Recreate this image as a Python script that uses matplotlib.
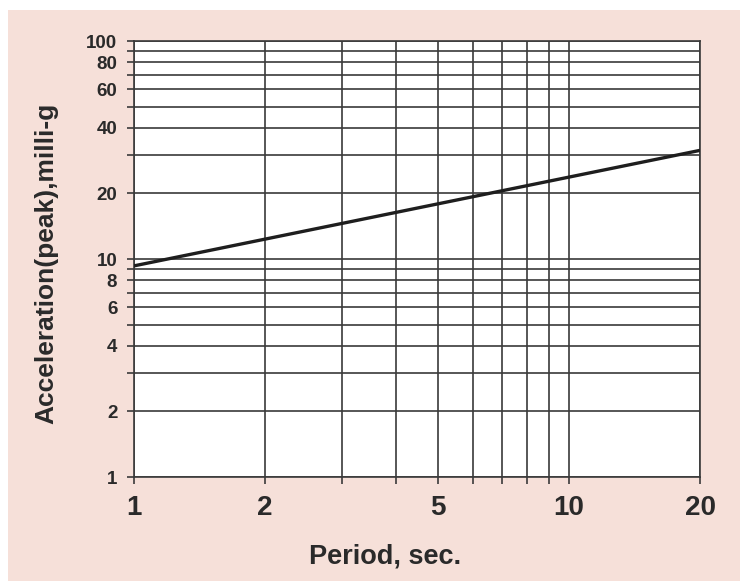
import numpy as np
import matplotlib
matplotlib.use('Agg')
import matplotlib.pyplot as plt
from matplotlib.patches import Rectangle
from matplotlib.ticker import FixedLocator

plt.rcParams['font.family'] = ['Liberation Sans', 'DejaVu Sans']

# data
period = [1, 20]
accel = [9.3, 31.5]

x_ticks = [1, 2, 5, 10, 20]
x_labels = ['1', '2', '5', '10', '20']
y_ticks = [1, 2, 4, 6, 8, 10, 20, 40, 60, 80, 100]
y_labels = ['1', '2', '4', '6', '8', '10', '20', '40', '60', '80', '100']
x_grid = [1, 2, 3, 4, 5, 6, 7, 8, 9, 10, 20]
y_grid = [1, 2, 3, 4, 5, 6, 7, 8, 9, 10, 20, 30, 40, 50, 60, 70, 80, 90, 100]

pink = '#F6E0D9'
ink = '#2a2a2a'
grid_col = '#3a3a3a'

fig = plt.figure(figsize=(7.4, 5.81), dpi=100, facecolor='white')
fig.patches.append(Rectangle((8 / 740, 0), 1, (581 - 10) / 581,
                             transform=fig.transFigure, facecolor=pink,
                             edgecolor='none', zorder=-10))

ax = fig.add_axes([134 / 740, 104 / 581, 566 / 740, 436 / 581])
ax.set_facecolor('white')
ax.set_xscale('log')
ax.set_yscale('log')
ax.set_xlim(1, 20)
ax.set_ylim(1, 100)

# grid lines
for xv in x_grid:
    ax.axvline(xv, color=grid_col, lw=1.2, zorder=1)
for yv in y_grid:
    ax.axhline(yv, color=grid_col, lw=1.2, zorder=1)

ax.plot(period, accel, color='#1e1e1e', lw=2.4, zorder=3, solid_capstyle='butt')

# tick marks on every grid line, labels only on some
ax.xaxis.set_major_locator(FixedLocator(x_grid))
ax.yaxis.set_major_locator(FixedLocator(y_grid))
ax.xaxis.set_minor_locator(FixedLocator([]))
ax.yaxis.set_minor_locator(FixedLocator([]))
ax.set_xticklabels([x_labels[x_ticks.index(v)] if v in x_ticks else '' for v in x_grid])
ax.set_yticklabels([y_labels[y_ticks.index(v)] if v in y_ticks else '' for v in y_grid])
ax.tick_params(axis='x', length=5, width=1.2, color=grid_col, pad=8,
               labelsize=20, labelcolor=ink)
ax.tick_params(axis='y', length=5, width=1.2, color=grid_col, pad=7,
               labelsize=13.5, labelcolor=ink)
for lab in ax.get_xticklabels() + ax.get_yticklabels():
    lab.set_fontweight('bold')

for sp in ax.spines.values():
    sp.set_color(grid_col)
    sp.set_linewidth(1.2)

fig.text(385 / 740, 1 - 556 / 581, 'Period, sec.', ha='center', va='center',
         fontsize=19.5, fontweight='bold', color=ink)
fig.text(46 / 740, 1 - 263 / 581, 'Acceleration(peak),milli-g', ha='center',
         va='center', rotation=90, fontsize=19, fontweight='bold', color=ink)

fig.savefig('out.png', dpi=100, facecolor=fig.get_facecolor())
